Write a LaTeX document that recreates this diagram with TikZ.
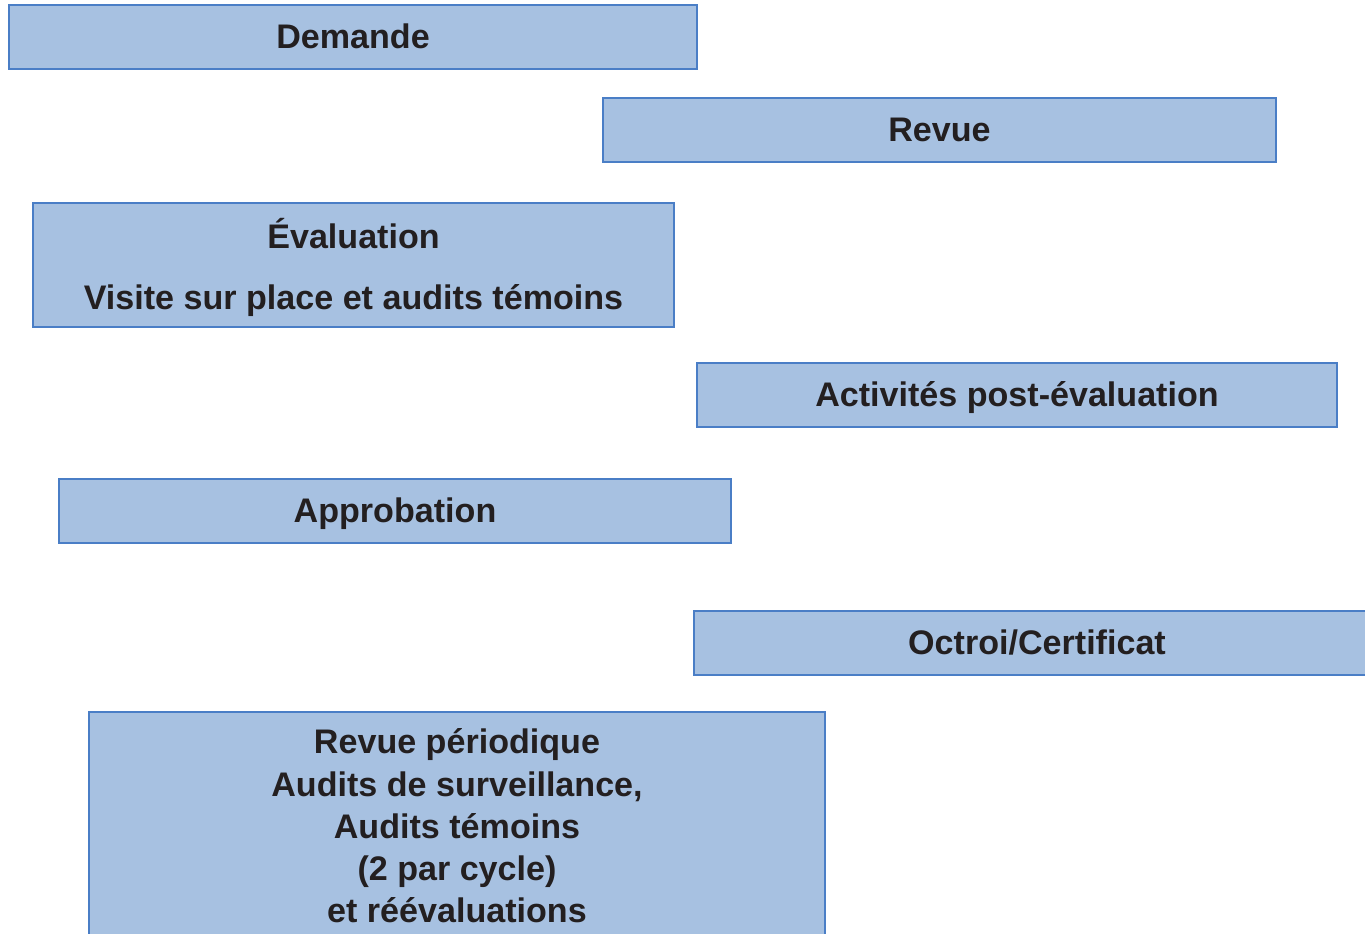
\documentclass[tikz,border=0pt]{standalone}
\usepackage{fontspec}
\setmainfont{Liberation Sans}
\usepackage{tikz}
\usepackage{xcolor}
\definecolor{stagefill}{HTML}{A7C1E1}
\definecolor{stageline}{HTML}{4A7EC6}
\definecolor{stagetext}{HTML}{231F20}

\begin{document}
\begin{tikzpicture}[
            % Styles for the certification stages
            stage/.style={rectangle, draw=stageline, fill=stagefill, line width=1.3pt,
                    minimum height=1.28cm, inner sep=0pt, align=center, text=stagetext,
                    font=\bfseries\fontsize{19.4}{23.8}\selectfont},
            oneline/.style={stage, text height=14pt, text depth=1pt},
            ]

            % === FRAME (page size of the figure) ===
            \clip (0,0) rectangle (27.3,-18.68);

            % === LEFT COLUMN ===
            \node[oneline, minimum width=13.76cm] (demande) at (7.06,-0.74) {Demande};
            \node[stage, minimum width=12.82cm, minimum height=2.48cm] (eval) at (7.07,-5.30)
            {\rule{0pt}{20pt}Évaluation\\[0.4cm]Visite sur place et audits témoins};
            \node[oneline, minimum width=13.44cm] (approb) at (7.90,-10.22) {Approbation};

            % === RIGHT COLUMN ===
            \node[oneline, minimum width=13.46cm] (revue) at (18.79,-2.60) {Revue};
            \node[oneline, minimum width=12.80cm] (postEval) at (20.34,-7.90) {Activités post-évaluation};
            \node[oneline, minimum width=13.72cm] (octroi) at (20.74,-12.86) {Octroi/Certificat};

            % === PERIODIC REVIEW (runs off the bottom) ===
            \node[stage, minimum width=14.72cm, inner ysep=0.32cm, anchor=north] (periodic) at (9.14,-14.22)
            {Revue périodique\\[1.1pt]Audits de surveillance,\\Audits témoins\\(2 par cycle)\\
                et réévaluations\rule[-0.6cm]{0pt}{0pt}};

        \end{tikzpicture}
\end{document}
